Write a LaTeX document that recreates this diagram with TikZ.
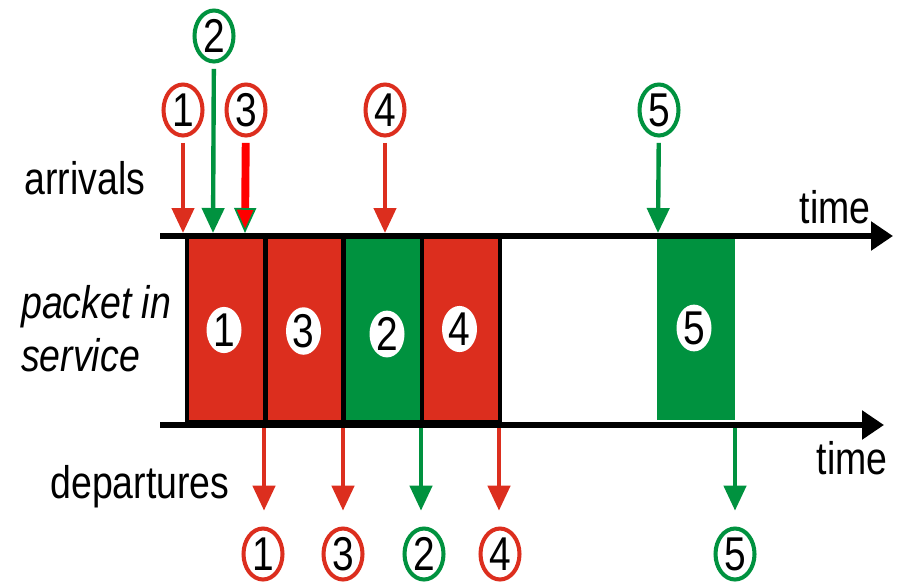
\documentclass[tikz,border=0pt]{standalone}
\usepackage{fontspec}
\setmainfont{Liberation Sans}[FakeStretch=0.82]
\usetikzlibrary{shapes.geometric,arrows.meta}
\definecolor{pktred}{RGB}{220,46,30}
\definecolor{pktgreen}{RGB}{0,146,63}
\tikzset{
  timeline/.style={line width=3.4pt,-{Triangle[length=0.44cm,width=0.56cm]}},
  arr/.style={line width=2.5pt,-{Triangle[length=0.5cm,width=0.44cm]}},
  num/.style={ellipse,draw,line width=2.3pt,fill=white,inner sep=0pt,
    minimum width=0.78cm,minimum height=1.02cm,font=\fontsize{27}{27}\selectfont},
  inum/.style={ellipse,fill=white,inner sep=0pt,
    minimum width=0.7cm,minimum height=0.9cm,font=\fontsize{27}{27}\selectfont},
  pkt/.style={draw=black,line width=2.8pt,inner sep=0pt,
    minimum width=1.56cm,minimum height=3.72cm},
  lbl/.style={font=\fontsize{26}{30}\selectfont}
}

\begin{document}
\begin{tikzpicture}[x=0.02cm,y=-0.02cm]
  \useasboundingbox (0,0) rectangle (901,582);

  % packets in service
  \node[pkt,fill=pktred]   (b1) at (226,329) {};
  \node[pkt,fill=pktred]   (b3) at (304.5,329) {};
  \node[pkt,fill=pktgreen] (b2) at (383,329) {};
  \node[pkt,fill=pktred]   (b4) at (461,329) {};
  \node[pkt,fill=pktgreen,draw=none,minimum height=3.68cm] (b5) at (696,328) {};
  \node[inum] (n1) at (224,330) {1};
  \node[inum] (n3) at (303.5,331) {3};
  \node[inum] (n2) at (387,334) {2};
  \node[inum] (n4) at (459.5,329) {4};
  \node[inum] (n5) at (694,328) {5};

  % time axes
  \coordinate (top0) at (160,236);
  \coordinate (top1) at (893,236);
  \coordinate (bot0) at (160,425);
  \coordinate (bot1) at (884,425);
  \draw[timeline] (top0) -- (top1);
  \draw[timeline] (bot0) -- (bot1);
  \node[lbl] (ttop) at (835,207) {time};
  \node[lbl] (tbot) at (852,458) {time};

  \node[lbl] (arr) at (85,178) {arrivals};
  \node[lbl,align=left,anchor=west,font=\fontsize{26}{30}\itshape] (srv) at (15,329) {packet in\\service};
  \node[lbl] (dep) at (140,487) {departures};

  % arrivals
  \node[num,draw=pktred]   (a1) at (183,110) {1};
  \node[num,draw=pktgreen] (a2) at (214,36) {2};
  \node[num,draw=pktred]   (a3) at (246,110) {3};
  \node[num,draw=pktred]   (a4) at (385,110) {4};
  \node[num,draw=pktgreen] (a5) at (659,110) {5};
  \coordinate (in1) at (183,233);
  \coordinate (in2) at (213,233);
  \coordinate (in3) at (245,233);
  \coordinate (in4) at (385,233);
  \coordinate (in5) at (658,233);
  \draw[arr,pktred,shorten <=3pt] (a1) -- (in1);
  \draw[arr,pktgreen,shorten <=3pt] (a2) -- (in2);
  \draw[line width=4.5pt,red,shorten <=3pt,
    -{Triangle[length=0.5cm,width=0.44cm,fill=red,color=pktgreen,line width=1pt]}] (a3) -- (in3);
  \draw[arr,pktred,shorten <=3pt] (a4) -- (in4);
  \draw[arr,pktgreen,shorten <=3pt] (a5) -- (in5);

  % departures
  \node[num,draw=pktred]   (d1) at (263,554) {1};
  \node[num,draw=pktred]   (d3) at (343,554) {3};
  \node[num,draw=pktgreen] (d2) at (424,554) {2};
  \node[num,draw=pktred]   (d4) at (500,554) {4};
  \node[num,draw=pktgreen] (d5) at (735,554) {5};
  \coordinate (out1) at (264,428);
  \coordinate (out3) at (343,428);
  \coordinate (out2) at (421,428);
  \coordinate (out4) at (499,428);
  \coordinate (out5) at (735,428);
  \draw[arr,pktred,shorten >=9pt] (out1) -- (out1 |- d1.north);
  \draw[arr,pktred,shorten >=9pt] (out3) -- (out3 |- d3.north);
  \draw[arr,pktgreen,shorten >=9pt] (out2) -- (out2 |- d2.north);
  \draw[arr,pktred,shorten >=9pt] (out4) -- (out4 |- d4.north);
  \draw[arr,pktgreen,shorten >=9pt] (out5) -- (out5 |- d5.north);
\end{tikzpicture}
\end{document}
